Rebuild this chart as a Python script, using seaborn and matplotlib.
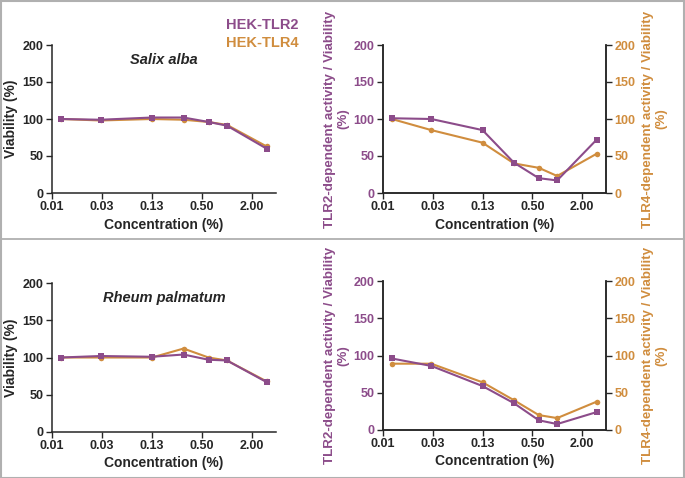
import numpy as np
import pandas as pd
import matplotlib
matplotlib.use('Agg')
from matplotlib import pyplot as plt
from matplotlib.lines import Line2D
import seaborn as sns

sns.set_style("ticks")
plt.rcParams['font.family'] = ['Liberation Sans', 'DejaVu Sans']
plt.rcParams['font.weight'] = 'bold'

PURPLE = '#8C4C8A'
ORANGE = '#D08D3E'

# --- data ---
conc = [0.01, 0.03, 0.125, 0.3, 0.6, 1.0, 3.0]
tick_pos = [0.0078125, 0.03125, 0.125, 0.5, 2.0]
tick_lab = ['0.01', '0.03', '0.13', '0.50', '2.00']

salix_via_tlr2 = [100, 99, 102, 102, 96, 91, 60]
salix_via_tlr4 = [100, 98, 100, 99, 96, 92, 63]
salix_act_tlr2 = [101, 100, 85, 41, 20, 17, 72]
salix_act_tlr4 = [100, 85, 68, 40, 34, 23, 53]

rheum_via_tlr2 = [100, 102, 101, 104, 97, 96, 67]
rheum_via_tlr4 = [100, 100, 100, 112, 100, 96, 68]
rheum_act_tlr2 = [96, 86, 59, 36, 13, 8, 24]
rheum_act_tlr4 = [89, 89, 64, 40, 20, 16, 38]

fig = plt.figure(figsize=(6.85, 4.78), dpi=100)
W, H = 685, 478


def add_ax(x0, y0, x1, y1):
    return fig.add_axes([x0 / W, 1 - y1 / H, (x1 - x0) / W, (y1 - y0) / H])


def style_x(ax):
    ax.set_xscale('log', base=2)
    ax.set_xlim(0.0078125, 3.9)
    ax.set_xticks(tick_pos)
    ax.set_xticklabels(tick_lab)
    ax.minorticks_off()
    ax.set_ylim(0, 200)
    ax.set_yticks([0, 50, 100, 150, 200])
    ax.tick_params(labelsize=9, length=4, width=1, pad=2)
    ax.set_xlabel('Concentration (%)', fontsize=10, fontweight='bold', labelpad=3)
    for s in ax.spines.values():
        s.set_linewidth(1.1)


def draw(ax, y, color, marker, ms):
    df = pd.DataFrame({'conc': conc, 'val': y})
    sns.lineplot(data=df, x='conc', y='val', ax=ax, color=color, marker=marker,
                 markersize=ms, markeredgewidth=0, linewidth=1.5)


def viability_panel(y0, y1, via2, via4, title):
    ax = add_ax(52, y0, 276, y1)
    draw(ax, via4, ORANGE, 'o', 4)
    draw(ax, via2, PURPLE, 's', 5)
    style_x(ax)
    sns.despine(ax=ax)
    ax.set_ylabel('Viability (%)', fontsize=10, fontweight='bold', labelpad=3)
    ax.text(0.5, 0.9, title, transform=ax.transAxes, ha='center', va='center',
            fontsize=10.5, fontweight='bold', style='italic')
    return ax


def activity_panel(y0, y1, act2, act4):
    ax = add_ax(383, y0, 606, y1)
    ax2 = ax.twinx()
    draw(ax2, act4, ORANGE, 'o', 4)
    draw(ax, act2, PURPLE, 's', 5)
    style_x(ax)
    ax2.set_ylim(0, 200)
    ax2.set_yticks([0, 50, 100, 150, 200])
    ax2.tick_params(labelsize=9, length=4, width=1, pad=2, labelcolor=ORANGE)
    ax.tick_params(axis='y', labelcolor=PURPLE)
    ax.spines['top'].set_visible(False)
    ax2.spines['top'].set_visible(False)
    for s in ax2.spines.values():
        s.set_linewidth(1.1)
    ax.set_ylabel('TLR2-dependent activity / Viability\n(%)', color=PURPLE,
                  fontsize=9.6, fontweight='bold', labelpad=3, linespacing=1.15)
    ax2.set_ylabel('TLR4-dependent activity / Viability\n(%)', color=ORANGE,
                   fontsize=9.6, fontweight='bold', rotation=90, labelpad=5,
                   linespacing=1.15)
    ax2.set_xlabel('')
    ax.set_zorder(ax2.get_zorder() + 1)
    ax.patch.set_visible(False)
    return ax


viability_panel(45, 193, salix_via_tlr2, salix_via_tlr4, 'Salix alba')
activity_panel(45, 193, salix_act_tlr2, salix_act_tlr4)
viability_panel(283, 432, rheum_via_tlr2, rheum_via_tlr4, 'Rheum palmatum')
activity_panel(281, 430, rheum_act_tlr2, rheum_act_tlr4)

# legend text
fig.text(262 / W, 1 - 25 / H, 'HEK-TLR2', color=PURPLE, fontsize=10.5,
         fontweight='bold', ha='center', va='center')
fig.text(262 / W, 1 - 43 / H, 'HEK-TLR4', color=ORANGE, fontsize=10.5,
         fontweight='bold', ha='center', va='center')

# frame and separator
fig.add_artist(Line2D([0, 1], [1 - 239 / H, 1 - 239 / H], color='#B0B0B0', lw=1.3))
fig.patches.append(plt.Rectangle((0.001, 0.001), 0.998, 0.997, transform=fig.transFigure,
                                 fill=False, edgecolor='#B0B0B0', lw=1.5))

fig.savefig('out.png', dpi=100)
